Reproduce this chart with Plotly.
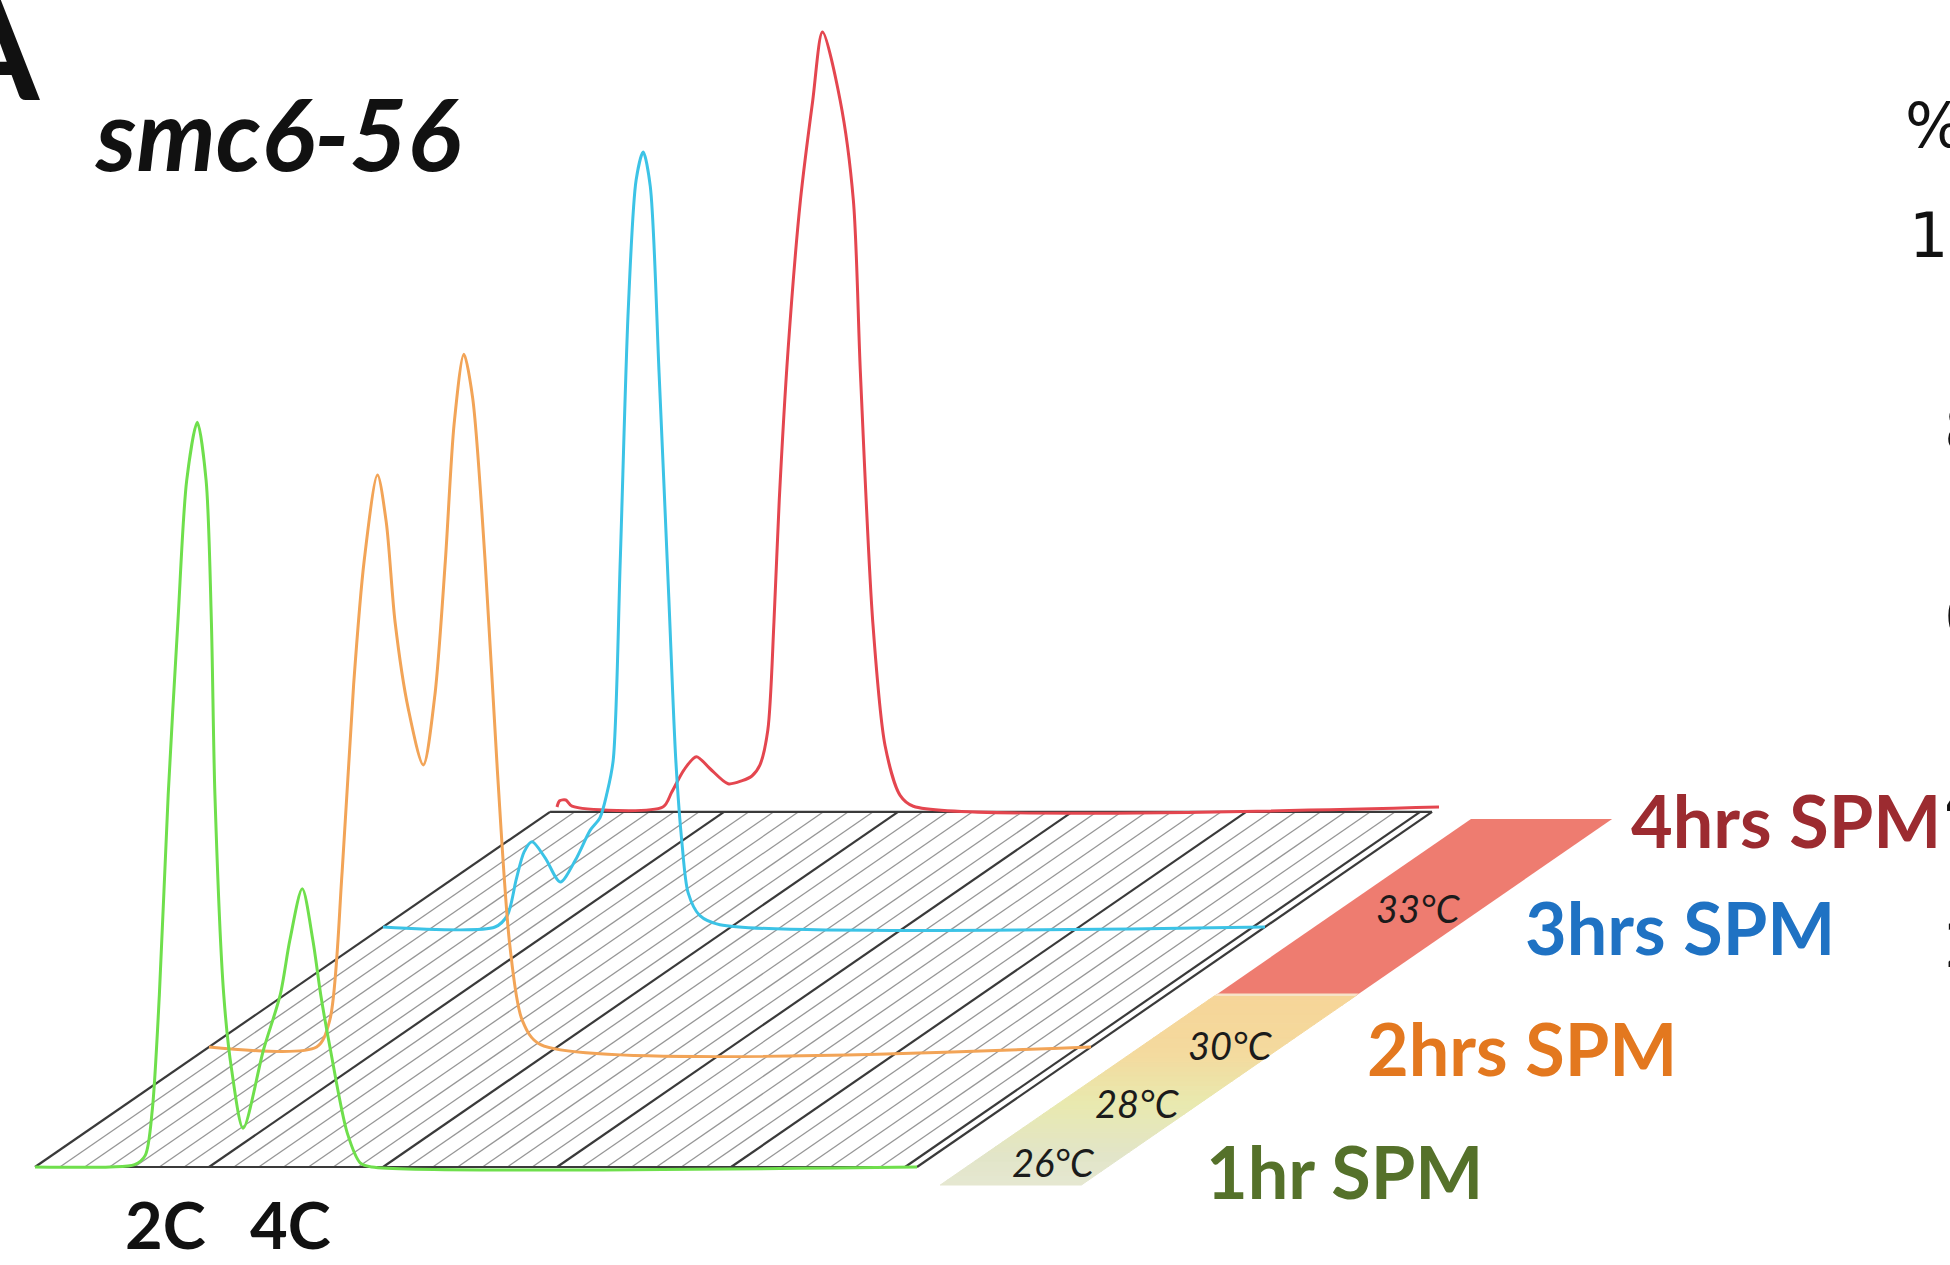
import plotly.graph_objects as go

W, H = 1950, 1265

# ---------------- data ----------------
# DNA content in channels (0-1000), cell counts as % of the tallest peak
series_names = ["1hr SPM", "2hrs SPM", "3hrs SPM", "4hrs SPM"]
temperatures = ["26°C", "28°C", "30°C", "33°C"]
ploidy_labels = ["2C", "4C"]

hr1_dna = [0, 85, 113, 125, 133, 141, 151, 162, 172, 184, 194, 200, 204, 214, 223, 236,
           259, 278, 289, 303, 315, 324, 335, 354, 369, 382, 1000]
hr1_cnt = [0, 0, 0.3, 1.5, 7.4, 22.2, 48.0, 70.3, 88.6, 96.1, 88.6, 70.3, 48.0, 22.2, 12.5, 5.0,
           15.1, 22.2, 29.3, 35.9, 29.3, 22.2, 15.1, 4.4, 0.5, 0, 0]

hr2_dna = [0, 122, 137, 151, 164, 176, 191, 201, 211, 226, 243, 256, 268, 278, 289, 299,
           313, 327, 341, 355, 376, 1000]
hr2_cnt = [0, 0, 3.5, 22.7, 46.8, 62.8, 73.8, 67.7, 54.8, 43.6, 36.4, 45.3, 62.8, 80.5, 89.4, 83.7,
           62.8, 35.6, 13.2, 3.5, 0.3, 0]

hr3_dna = [0, 127, 141, 151, 160, 169, 184, 201, 218, 235, 246, 254, 261, 269, 278, 287, 295,
           303, 313, 324, 332, 339, 346, 359, 382, 1000]
hr3_cnt = [0, 0, 1.5, 6.1, 9.7, 11.0, 8.9, 5.8, 8.6, 12.5, 14.1, 17.3, 21.5, 47.3, 79.5, 96.4, 100.0,
           95.6, 71.5, 42.6, 21.5, 10.8, 4.4, 1.5, 0.3, 0]

hr4_dna = [0, 3, 10, 17, 120, 130, 144, 158, 173, 194, 210, 221, 230, 239, 246, 252, 262, 276,
           290, 301, 321, 336, 344, 358, 372, 389, 404, 1000]
hr4_cnt = [0, 0.8, 0.9, 0.1, 0, 1.9, 4.8, 6.5, 5.0, 3.0, 3.4, 4.0, 5.4, 9.9, 23.9, 39.6, 59.0, 78.3,
           91.2, 100.0, 91.2, 78.3, 56.0, 23.9, 7.9, 1.5, 0.1, 0]

dna_series = [hr1_dna, hr2_dna, hr3_dna, hr4_dna]
cnt_series = [hr1_cnt, hr2_cnt, hr3_cnt, hr4_cnt]

# ---------------- styling / geometry ----------------
line_colors = ["#6FDF4C", "#F2A457", "#3CC3E6", "#E4464F"]
label_colors = ["#55712A", "#E3781F", "#1F72C3", "#9C2B30"]

X0_PX, BASE_PX = 35.0, 1167.0           # pixel position of channel 0 / count 0
PX_PER_CH, PX_PER_CNT = 0.882, 7.75
DEPTH_DX = 174.0 / PX_PER_CH            # depth shift per series (channels)
DEPTH_DY = 120.0 / PX_PER_CNT           # depth shift per series (count units)
FLOOR_DEPTH = 2.96
GRID_MAJOR = 197.3
DNA_MAX = 1000

x_range = [-X0_PX / PX_PER_CH, (W - X0_PX) / PX_PER_CH]
y_range = [-(H - BASE_PX) / PX_PER_CNT, BASE_PX / PX_PER_CNT]


def proj(ch, depth, cnt=0.0):
    return ch + depth * DEPTH_DX, cnt + depth * DEPTH_DY


fig = go.Figure()

# ---- floor grid ----
major = [j * GRID_MAJOR for j in range(6)] + [DNA_MAX]
minor = [j * GRID_MAJOR + i * GRID_MAJOR / 7 for j in range(5) for i in range(1, 7)]


def diag_xy(positions):
    xs, ys = [], []
    for c in positions:
        xa, ya = proj(c, 0)
        xb, yb = proj(c, FLOOR_DEPTH)
        xs += [xa, xb, None]
        ys += [ya, yb, None]
    return xs, ys


mx, my = diag_xy(minor)
fig.add_trace(go.Scatter(x=mx, y=my, mode="lines", line=dict(color="#969696", width=1.3),
                         hoverinfo="skip", showlegend=False))
Mx, My = diag_xy(major)
bx0, by0 = proj(0, FLOOR_DEPTH)
bx1, by1 = proj(DNA_MAX, FLOOR_DEPTH)
Mx += [0, DNA_MAX, None, bx0, bx1, None]
My += [0, 0, None, by0, by1, None]
fig.add_trace(go.Scatter(x=Mx, y=My, mode="lines", line=dict(color="#3A3A3A", width=2.2),
                         hoverinfo="skip", showlegend=False))

# ---- temperature band (in floor plane, right of the grid) ----
BAND_CH = (1056, 1216)
shapes = []


def band_path(d0, d1):
    pts = [proj(BAND_CH[0], d0), proj(BAND_CH[1], d0), proj(BAND_CH[1], d1), proj(BAND_CH[0], d1)]
    return "M " + " L ".join(f"{x:.2f},{y:.3f}" for x, y in pts) + " Z"


stops = [(-0.15, (229, 231, 209)), (0.1, (226, 229, 200)), (0.55, (233, 233, 174)),
         (0.95, (244, 218, 158)), (1.43, (246, 213, 152))]


def color_at(d):
    for (a, ca), (b, cb) in zip(stops[:-1], stops[1:]):
        if a <= d <= b:
            t = (d - a) / (b - a)
            c = [round(ca[i] + (cb[i] - ca[i]) * t) for i in range(3)]
            return f"rgb({c[0]},{c[1]},{c[2]})"
    return "rgb(246,213,152)"


N = 40
d_lo, d_hi = -0.15, 1.43
for i in range(N):
    a = d_lo + (d_hi - d_lo) * i / N
    b = d_lo + (d_hi - d_lo) * (i + 1) / N
    col = color_at((a + b) / 2)
    shapes.append(dict(type="path", path=band_path(a, b), xref="x", yref="y", layer="below",
                       fillcolor=col, line=dict(color=col, width=1)))
shapes.append(dict(type="path", path=band_path(1.43, 2.9), xref="x", yref="y", layer="below",
                   fillcolor="#EE7C70", line=dict(width=0)))
shapes.append(dict(type="path", path=band_path(1.425, 1.445), xref="x", yref="y", layer="below",
                   fillcolor="#F7E3C8", line=dict(width=0)))

# ---- histograms (back to front) ----
for k in range(3, -1, -1):
    xs = [c + k * DEPTH_DX for c in dna_series[k]]
    ys = [v + k * DEPTH_DY for v in cnt_series[k]]
    fig.add_trace(go.Scatter(x=xs, y=ys, mode="lines", name=series_names[k],
                             line=dict(color=line_colors[k], width=3, shape="spline", smoothing=0.8),
                             hoverinfo="skip", showlegend=False))

annotations = []
# temperature labels
temp_depth = [0.04, 0.53, 1.02, 2.16]
temp_ch = [1147, 1146, 1154, 1142]
for t, d, c in zip(temperatures, temp_depth, temp_ch):
    x, y = proj(c, d)
    annotations.append(dict(x=x, y=y, xref="x", yref="y", text=f"<i>{t}</i>", showarrow=False,
                            yanchor="middle", font=dict(family="Lato", size=38, color="#1b1b1b")))

# series labels (paper coords)
lab_left = [1204, 1365, 1523, 1629]
lab_mid = [1171, 1048, 927, 820]
for name, col, lx, ly in zip(series_names, label_colors, lab_left, lab_mid):
    annotations.append(dict(x=lx / W, y=1 - ly / H, xref="paper", yref="paper", xanchor="left",
                            yanchor="middle", text=f"<b>{name}</b>", showarrow=False,
                            font=dict(family="Lato", size=72, color=col)))

# ploidy labels under the front axis
for lab, px in zip(ploidy_labels, [165, 290]):
    annotations.append(dict(x=px / W, y=0.0, xref="paper", yref="paper", xanchor="center",
                            yanchor="bottom", text=f"<b>{lab}</b>", showarrow=False,
                            font=dict(family="Lato", size=65, color="#111111")))

# panel letter and strain name
annotations.append(dict(x=42 / W, y=1 - 46 / H, xref="paper", yref="paper", xanchor="right",
                        yanchor="middle", text="<b>A</b>", showarrow=False,
                        font=dict(family="Lato", size=140, color="#111111")))
annotations.append(dict(x=93 / W, y=1 - 132 / H, xref="paper", yref="paper", xanchor="left",
                        yanchor="middle", text="<b><i>smc6-56</i></b>", showarrow=False,
                        font=dict(family="Lato", size=100, color="#111111")))

# clipped text of the neighbouring panel at the right edge
annotations.append(dict(x=1903 / W, y=1 - 126 / H, xref="paper", yref="paper", xanchor="left",
                        yanchor="middle", text="%", showarrow=False,
                        font=dict(family="DejaVu Sans", size=62, color="#111111")))
annotations.append(dict(x=1907 / W, y=1 - 235 / H, xref="paper", yref="paper", xanchor="left",
                        yanchor="middle", text="100", showarrow=False,
                        font=dict(family="DejaVu Sans", size=62, color="#111111")))
for txt, ty in zip(["80", "60", "40", "20"], [429, 616, 800, 945]):
    annotations.append(dict(x=1942 / W, y=1 - ty / H, xref="paper", yref="paper", xanchor="left",
                            yanchor="middle", text=txt, showarrow=False,
                            font=dict(family="DejaVu Sans", size=62, color="#111111")))

fig.update_layout(
    width=W, height=H, margin=dict(l=0, r=0, t=0, b=0),
    paper_bgcolor="white", plot_bgcolor="white",
    xaxis=dict(range=x_range, visible=False, fixedrange=True),
    yaxis=dict(range=y_range, visible=False, fixedrange=True),
    shapes=shapes, annotations=annotations, showlegend=False,
)

fig.write_html("out.html")
